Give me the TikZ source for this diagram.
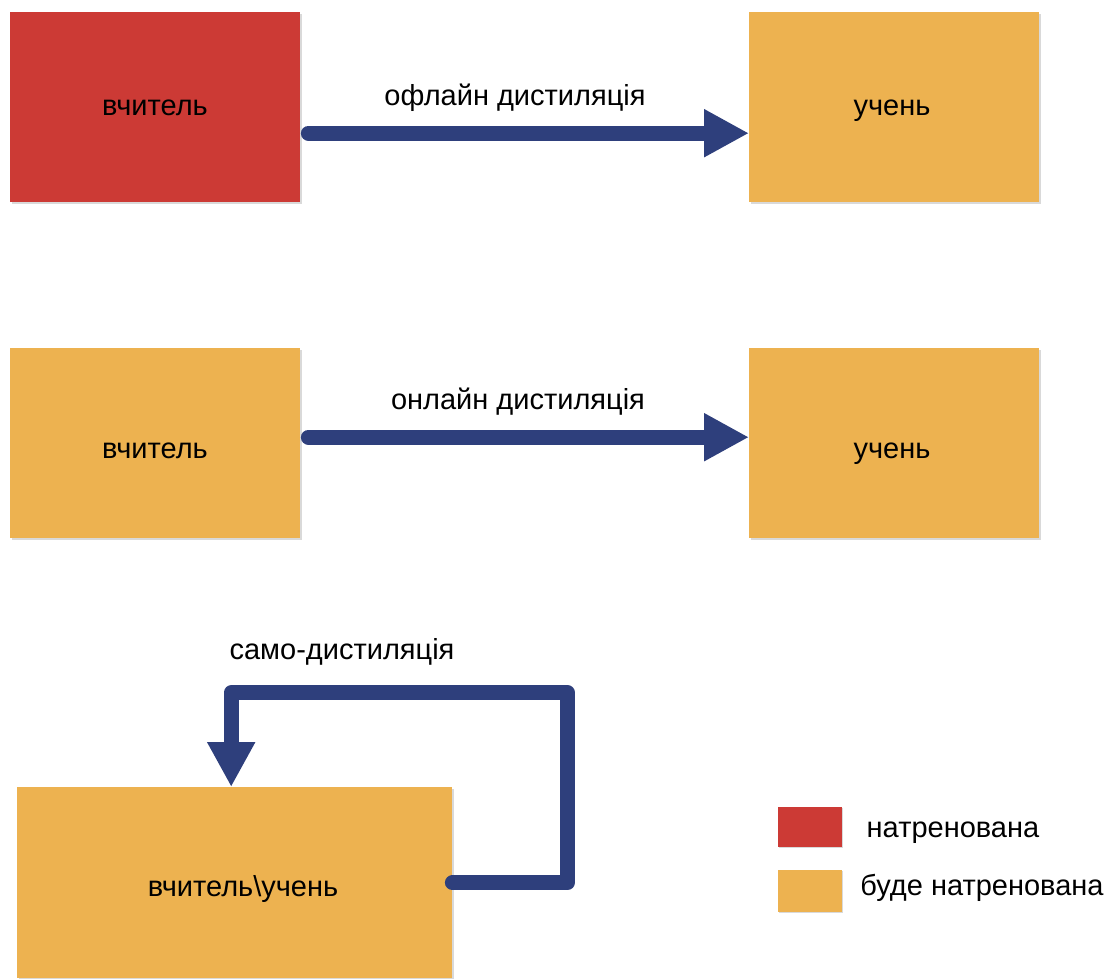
\documentclass[tikz,border=0pt]{standalone}
\usepackage{fontspec}
\setmainfont{Liberation Sans}
\usetikzlibrary{arrows.meta,shadows}
\definecolor{trained}{HTML}{CC3A35}
\definecolor{totrain}{HTML}{EDB250}
\definecolor{flowblue}{HTML}{2E3F7C}
\begin{document}
\begin{tikzpicture}[x=1pt,y=-1pt,
  box/.style={draw=none, inner sep=0pt, anchor=north west,
    minimum width=290pt, minimum height=190pt,
    drop shadow={shadow xshift=1.5pt, shadow yshift=-1.5pt, opacity=0.3}},
  redbox/.style={box, fill=trained},
  orangebox/.style={box, fill=totrain},
  swatch/.style={draw=none, inner sep=0pt, anchor=north west,
    minimum width=64pt,
    drop shadow={shadow xshift=1.2pt, shadow yshift=-1.2pt, opacity=0.3}},
  txt/.style={anchor=base, inner sep=0pt, font=\fontsize{29}{34}\selectfont},
  flow/.style={draw=flowblue, line width=15pt, line cap=round, line join=round,
    -{Triangle[length=45pt,width=45pt]}}
]
\useasboundingbox (0,0) rectangle (1119,978);

% row 1: offline distillation
\node[redbox] (t1) at (10,12) {};
\node[orangebox] (s1) at (749,12) {};
\node[txt] (t1txt) at (155,115) {вчитель};
\node[txt] (s1txt) at (892,115) {учень};
\node[txt] (l1) at (515,105) {офлайн дистиляція};
\draw[flow] ([shift={(8,26)}]t1.east) -- ([shift={(0,26)}]s1.west);

% row 2: online distillation
\node[orangebox] (t2) at (10,348) {};
\node[orangebox] (s2) at (749,348) {};
\node[txt] (t2txt) at (155,458) {вчитель};
\node[txt] (s2txt) at (892,458) {учень};
\node[txt] (l2) at (518,409) {онлайн дистиляція};
\draw[flow] ([shift={(8,-6)}]t2.east) -- ([shift={(0,-6)}]s2.west);

% row 3: self-distillation
\node[orangebox, minimum width=435pt, minimum height=191pt] (b) at (17,787) {};
\node[txt] (btxt) at (243,896) {вчитель\textbackslash учень};
\node[txt] (l3) at (342,659) {само-дистиляція};
\draw[flow] (b.east) -- ++(115,0) -- ++(0,-190) -| ([xshift=-3.5pt]b.north);

% legend
\node[swatch, fill=trained, minimum height=40pt] (k1) at (778,807) {};
\node[swatch, fill=totrain, minimum height=42pt] (k2) at (778,870) {};
\node[txt] (k1txt) at (953,837) {натренована};
\node[txt] (k2txt) at (982,895) {буде натренована};
\end{tikzpicture}
\end{document}
